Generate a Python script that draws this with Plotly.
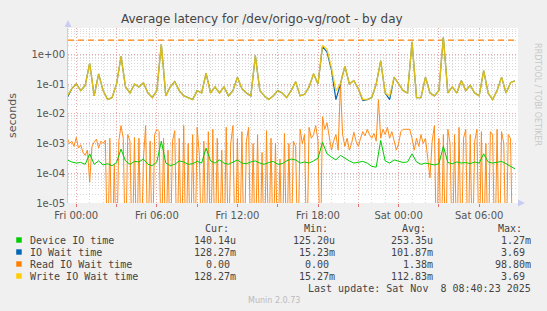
import pandas as pd
import plotly.graph_objects as go

# ---------------- data ----------------
t20 = pd.date_range("2025-11-06 23:20", periods=101, freq="20min")
t10 = pd.date_range("2025-11-06 23:20", periods=201, freq="10min")

device_io = [
    2.8e-4, 2.4e-4, 2.2e-4, 2.3e-4, 2.0e-4, 4.5e-4, 2.0e-4, 2.6e-4, 1.9e-4, 2.1e-4,
    1.8e-4, 2.3e-4, 6.5e-4, 2.6e-4, 2.0e-4, 2.5e-4, 2.4e-4, 3.0e-4, 2.0e-4, 1.8e-4,
    2.4e-4, 1.2e-3, 2.2e-4, 1.8e-4, 2.0e-4, 2.6e-4, 2.4e-4, 2.0e-4, 2.1e-4, 2.5e-4,
    2.2e-4, 7.0e-4, 2.6e-4, 2.2e-4, 2.8e-4, 2.2e-4, 2.0e-4, 2.4e-4, 2.8e-4, 2.2e-4,
    2.1e-4, 2.4e-4, 2.6e-4, 2.2e-4, 2.0e-4, 2.3e-4, 2.5e-4, 2.0e-4, 2.1e-4, 2.6e-4,
    3.0e-4, 2.8e-4, 2.2e-4, 2.4e-4, 2.2e-4, 2.6e-4, 3.2e-4, 1.1e-3, 4.5e-4, 3.5e-4,
    2.8e-4, 4.0e-4, 3.2e-4, 2.6e-4, 2.2e-4, 2.4e-4, 2.5e-4, 2.2e-4, 1.7e-4, 1.6e-4,
    1.27e-3, 2.6e-4, 2.2e-4, 2.8e-4, 2.6e-4, 2.3e-4, 2.4e-4, 4.5e-4, 2.4e-4, 2.0e-4,
    2.2e-4, 2.0e-4, 1.9e-4, 2.1e-4, 8.0e-4, 2.3e-4, 2.1e-4, 2.4e-4, 2.2e-4, 2.3e-4,
    2.1e-4, 2.4e-4, 2.2e-4, 4.5e-4, 2.4e-4, 2.2e-4, 2.3e-4, 2.5e-4, 2.1e-4, 1.7e-4,
    1.4e-4,
]

write_wait = [
    0.04, 0.07, 0.10, 0.06, 0.09, 0.50, 0.04, 0.22, 0.06, 0.03,
    0.035, 0.10, 0.85, 0.08, 0.05, 0.10, 0.08, 0.11, 0.05, 0.035,
    0.06, 2.20, 0.04, 0.08, 0.12, 0.06, 0.04, 0.035, 0.03, 0.06,
    0.05, 0.23, 0.05, 0.08, 0.05, 0.08, 0.04, 0.06, 0.17, 0.07,
    0.05, 0.04, 0.90, 0.06, 0.04, 0.03, 0.04, 0.06, 0.05, 0.035,
    0.06, 0.12, 0.04, 0.045, 0.08, 0.22, 0.10, 2.00, 1.50, 0.35,
    0.06, 0.10, 0.40, 0.10, 0.13, 0.07, 0.03, 0.03, 0.035, 0.10,
    0.60, 0.05, 0.04, 0.17, 0.10, 0.06, 0.05, 2.60, 0.035, 0.035,
    0.17, 0.05, 0.04, 0.06, 3.69, 0.05, 0.08, 0.05, 0.13, 0.06,
    0.09, 0.05, 0.04, 0.28, 0.05, 0.03, 0.06, 0.17, 0.05, 0.11,
    0.128,
]

io_wait = [
    0.035, 0.07, 0.10, 0.06, 0.09, 0.50, 0.04, 0.22, 0.06, 0.03,
    0.035, 0.10, 0.85, 0.08, 0.05, 0.10, 0.08, 0.11, 0.05, 0.035,
    0.06, 2.20, 0.04, 0.08, 0.12, 0.06, 0.04, 0.035, 0.03, 0.06,
    0.05, 0.23, 0.05, 0.08, 0.05, 0.08, 0.04, 0.06, 0.17, 0.07,
    0.05, 0.04, 0.90, 0.06, 0.04, 0.03, 0.04, 0.06, 0.05, 0.035,
    0.06, 0.12, 0.04, 0.045, 0.08, 0.22, 0.10, 1.80, 1.20, 0.30,
    0.03, 0.10, 0.40, 0.10, 0.13, 0.07, 0.028, 0.03, 0.035, 0.10,
    0.60, 0.05, 0.03, 0.17, 0.10, 0.06, 0.05, 2.60, 0.035, 0.035,
    0.17, 0.05, 0.04, 0.06, 3.69, 0.05, 0.08, 0.05, 0.13, 0.06,
    0.09, 0.05, 0.04, 0.28, 0.05, 0.03, 0.06, 0.17, 0.05, 0.11,
    0.128,
]

read_wait = [
    1.5e-3, 1.0e-3, 1.2e-3, 8e-4, 1.6e-3, 7e-4, 9e-4, 5e-4, 4e-4, 6e-4,
    5e-5, 8e-4, 1.1e-3, 1.4e-3, 7e-4, 1.2e-3, 1.0e-3, 1.3e-3, 0, 1.5e-3,
    0, 2e-4, 0, 1.2e-3, 4e-3, 1.5e-3, 0, 2e-3, 1.2e-3, 0,
    1.6e-3, 0, 1.5e-3, 0, 3e-4, 4e-3, 0, 1.2e-3, 0, 2e-3,
    3e-3, 2.5e-3, 0, 1.5e-3, 0, 6e-4, 0, 1.2e-3, 2.7e-3, 0,
    1.5e-3, 0, 4e-3, 0, 1e-3, 0, 2e-3, 0, 3.5e-3, 4e-4,
    0, 1.2e-3, 0, 2.5e-3, 0, 3e-3, 0, 1.5e-3, 0, 6e-4,
    0, 3.5e-3, 0, 1e-3, 4e-3, 0, 1.5e-3, 0, 2.5e-3, 0,
    1.2e-3, 3.5e-3, 0, 1e-3, 0, 2e-3, 0, 5e-4, 0, 2.7e-3,
    0, 1.5e-3, 0, 1.0e-3, 0, 3e-4, 0, 2.2e-3, 0, 1e-3,
    0, 1.2e-3, 8e-4, 0, 3e-3, 1e-3, 2e-3, 0, 3.5e-3, 1.5e-3,
    2e-3, 4e-3, 1.2e-3, 0, 8e-3, 3e-3, 5e-3, 1.5e-3, 6e-4, 1.2e-3,
    2e-3, 6e-4, 0.0988, 2e-3, 8e-4, 1.5e-3, 6e-4, 1e-3, 2.4e-3, 1.2e-3,
    8e-4, 1.5e-3, 2.5e-3, 1.8e-3, 3e-3, 2e-3, 1.5e-3, 2.2e-3, 1.2e-3, 0.03,
    1.5e-3, 3e-3, 2e-3, 3.5e-3, 1.5e-3, 2.5e-3, 1.2e-3, 6e-4, 1e-3, 2.5e-3,
    3e-3, 3e-3, 3e-3, 3e-3, 1.5e-3, 6e-4, 1.5e-3, 8e-4, 2e-3, 1e-3,
    1.5e-3, 4e-4, 7e-5, 1.2e-3, 4e-3, 0, 1.5e-3, 0, 2e-3, 0,
    3e-3, 1e-3, 0, 2e-3, 0, 3.5e-3, 0, 1.5e-3, 3e-3, 0,
    2e-3, 0, 1.2e-3, 3e-3, 0, 2.5e-3, 0, 1e-3, 0, 2.5e-3,
    2e-3, 0, 3e-3, 0, 2.5e-3, 1e-3, 0, 2e-3, 1.5e-3, 0,
    0,
]

threshold = 3.0
threshold_span = ["2025-11-06 23:23", "2025-11-08 08:53"]

legend_labels = ["Device IO time", "IO Wait time", "Read IO Wait time", "Write IO Wait time"]
legend_colors = ["#00CC00", "#0066B3", "#FF8000", "#FFCC00"]
cur_vals = ["140.14u", "128.27m", "0.00\u00a0", "128.27m"]
min_vals = ["125.20u", "15.23m", "0.00\u00a0", "15.27m"]
avg_vals = ["253.35u", "101.87m", "1.38m", "112.83m"]
max_vals = ["1.27m", "3.69\u00a0", "98.80m", "3.69\u00a0"]

ytick_vals = [1e-5, 1e-4, 1e-3, 1e-2, 1e-1, 1e0]
ytick_text = ["1e-05", "1e-04", "1e-03", "1e-02", "1e-01", "1e+00"]
xtick_vals = pd.date_range("2025-11-07 00:00", periods=11, freq="3h")
xtick_text = ["Fri 00:00", "", "Fri 06:00", "", "Fri 12:00", "", "Fri 18:00", "",
              "Sat 00:00", "", "Sat 06:00"]

# ---------------- figure ----------------
W, H = 547, 311
L, R, T, B = 66, 518, 28, 203
PW, PH = R - L, B - T

def xp(px):
    return (px - L) / PW

def yp(py):
    return (B - py) / PH

FLOOR = 1e-7  # zero values are drawn below the axis floor, as rrdtool does
read_plot = [v if v > 0 else FLOOR for v in read_wait]

fig = go.Figure()
fig.add_trace(go.Scatter(x=threshold_span, y=[threshold, threshold], mode="lines",
                         line=dict(color="#FF8000", width=1.2, dash="6px,4px"),
                         hoverinfo="skip"))
fig.add_trace(go.Scatter(x=t10, y=read_plot, mode="lines", opacity=0.9,
                         line=dict(color="#FF8000", width=1)))
fig.add_trace(go.Scatter(x=t20, y=device_io, mode="lines",
                         line=dict(color="#00CC00", width=1)))
fig.add_trace(go.Scatter(x=t20, y=io_wait, mode="lines",
                         line=dict(color="#0066B3", width=1.2)))
fig.add_trace(go.Scatter(x=t20, y=write_wait, mode="lines", opacity=0.85,
                         line=dict(color="#FFCC00", width=1.4)))

MAJ = "#E8A8A8"
MIN = "#DADADA"
FONT = "DejaVu Sans"
MONO = "DejaVu Sans Mono"

fig.update_layout(
    width=W, height=H,
    margin=dict(l=L, r=W - R, t=T, b=H - B, pad=0),
    paper_bgcolor="#F0F0F0", plot_bgcolor="#FFFFFF",
    showlegend=False,
    font=dict(family=FONT, size=10, color="#555555"),
)
fig.update_xaxes(
    type="date",
    range=["2025-11-06 23:23:07", "2025-11-08 08:53:24"],
    tickvals=xtick_vals, ticktext=xtick_text,
    showgrid=True, gridcolor=MAJ, griddash="1px,2px", gridwidth=1,
    ticks="outside", ticklen=3, tickcolor="#E07070",
    tickfont=dict(family=FONT, size=10, color="#555555"),
    minor=dict(dtick=3600000, tick0="2025-11-07 00:00", showgrid=True,
               gridcolor=MIN, griddash="1px,2px", ticks=""),
    showline=False, zeroline=False, fixedrange=True,
)
minor_y = [m * 10.0 ** e for e in range(-5, 1) for m in range(2, 10)]
fig.update_yaxes(
    type="log", range=[-5, 0.883],
    tickvals=ytick_vals, ticktext=ytick_text,
    showgrid=True, gridcolor=MAJ, griddash="1px,2px", gridwidth=1,
    ticks="", tickfont=dict(family=FONT, size=10, color="#555555"),
    minor=dict(tickvals=minor_y, showgrid=True, gridcolor=MIN, griddash="1px,2px"),
    showline=True, linecolor="#C8CCF0", linewidth=1,
    zeroline=False, fixedrange=True,
    title=dict(text="seconds", font=dict(family=FONT, size=11, color="#555555"),
               standoff=12),
)

ann = []
ann.append(dict(text="Average latency for /dev/origo-vg/root - by day",
                x=xp(261), y=yp(19), xanchor="center", yanchor="middle",
                font=dict(family=FONT, size=12, color="#444444")))
ann.append(dict(text="RRDTOOL / TOBI OETIKER", x=xp(538), y=yp(95), textangle=90,
                xanchor="center", yanchor="middle",
                font=dict(family=FONT, size=8, color="#C8C8C8")))
ann.append(dict(text="Munin 2.0.73", x=xp(273), y=yp(300), xanchor="center",
                yanchor="middle", font=dict(family=FONT, size=8, color="#BBBBBB")))

hdr_y = 228
for txt, x0 in [("Cur:", 202), ("Min:", 301), ("Avg:", 399), ("Max:", 496)]:
    ann.append(dict(text=txt, x=xp(x0), y=yp(hdr_y), xanchor="left", yanchor="middle",
                    font=dict(family=MONO, size=10, color="#444444")))

shapes = []
for k, lab in enumerate(legend_labels):
    ry = 240 + 12 * k
    shapes.append(dict(type="rect", xref="paper", yref="paper",
                       x0=xp(14), x1=xp(19.5), y0=yp(ry + 2.7), y1=yp(ry - 2.7),
                       fillcolor=legend_colors[k], line=dict(width=0)))
    ann.append(dict(text=lab, x=xp(26), y=yp(ry), xanchor="left", yanchor="middle",
                    font=dict(family=MONO, size=10, color="#444444")))
    for vals, xr in [(cur_vals, 237), (min_vals, 336.6), (avg_vals, 435), (max_vals, 533)]:
        ann.append(dict(text=vals[k], x=xp(xr), y=yp(ry), xanchor="right",
                        yanchor="middle",
                        font=dict(family=MONO, size=10, color="#444444")))

ann.append(dict(text="Last update: Sat Nov \u00a08 08:40:23 2025", x=xp(533), y=yp(288),
                xanchor="right", yanchor="middle",
                font=dict(family=MONO, size=10, color="#444444")))

for a in ann:
    a.update(xref="paper", yref="paper", showarrow=False)

# axis arrows
shapes.append(dict(type="path", xref="paper", yref="paper",
                   path=f"M {xp(62.5)} {yp(27)} L {xp(69.5)} {yp(27)} L {xp(66)} {yp(20)} Z",
                   fillcolor="#C8CCF0", line=dict(width=0)))
shapes.append(dict(type="path", xref="paper", yref="paper",
                   path=f"M {xp(518)} {yp(199.5)} L {xp(518)} {yp(206.5)} L {xp(525)} {yp(203)} Z",
                   fillcolor="#C8CCF0", line=dict(width=0)))

fig.update_layout(annotations=ann, shapes=shapes)
fig.write_html("out.html")
